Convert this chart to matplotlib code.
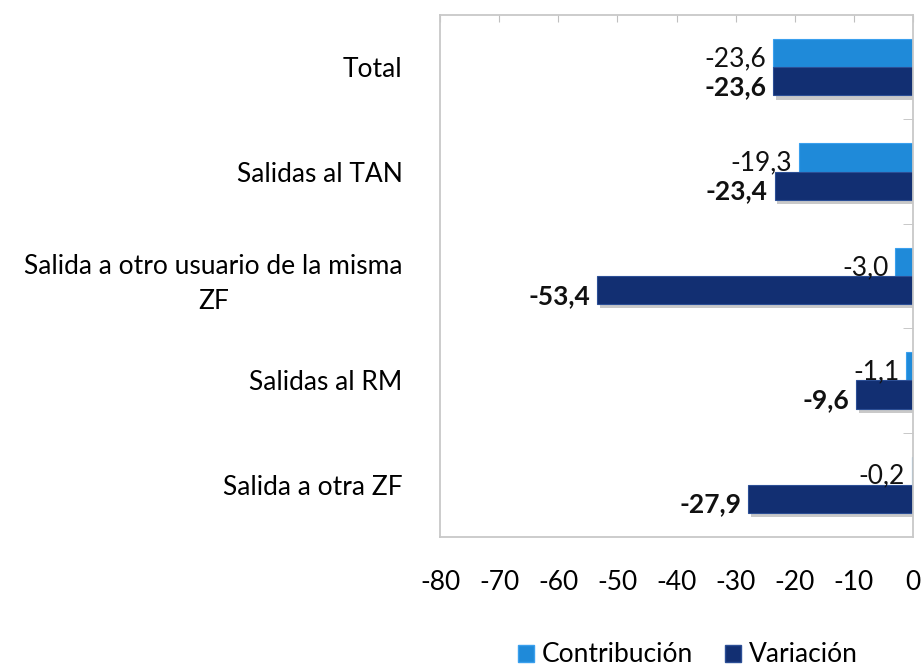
import matplotlib.pyplot as plt
import matplotlib.patheffects as pe
from matplotlib.patches import Patch
import numpy as np

plt.rcParams['font.family'] = ['Lato', 'DejaVu Sans']
plt.rcParams['axes.unicode_minus'] = False

categorias = ['Total', 'Salidas al TAN', 'Salida a otro usuario de la misma\nZF',
              'Salidas al RM', 'Salida a otra ZF']
contribucion = [-23.6, -19.3, -3.0, -1.1, -0.2]
variacion = [-23.6, -23.4, -53.4, -9.6, -27.9]

c_light = '#1f8ad9'
c_dark = '#122f72'
fs = 19

fig = plt.figure(figsize=(9.22, 6.7), dpi=100)
ax = fig.add_axes([440/922, 1-537/670, 473/922, 522/670])

y = np.arange(len(categorias))
h = 0.27
shadow = [pe.SimplePatchShadow(offset=(2, -3), shadow_rgbFace='#888888', alpha=0.45), pe.Normal()]

b1 = ax.barh(y - h/2, contribucion, height=h, color=c_light, edgecolor='#3aa0ee', linewidth=0.8, path_effects=shadow)
b2 = ax.barh(y + h/2, variacion, height=h, color=c_dark, edgecolor='#2c4f96', linewidth=0.8, path_effects=shadow)

def fmt(v):
    return ('%.1f' % v).replace('.', ',')

for rect, v in zip(b1, contribucion):
    ax.annotate(fmt(v), (v, rect.get_y() + rect.get_height()/2), xytext=(-5, -4),
                textcoords='offset points', ha='right', va='center', fontsize=fs, color='#111111')
for rect, v in zip(b2, variacion):
    ax.annotate(fmt(v), (v, rect.get_y() + rect.get_height()/2), xytext=(-5, -4),
                textcoords='offset points', ha='right', va='center', fontsize=fs,
                fontweight='bold', color='#111111')

ax.set_xlim(-80, 0)
ax.set_ylim(len(categorias) - 0.5, -0.5)
ax.set_xticks(np.arange(-80, 1, 10))
ax.tick_params(axis='x', top=True, bottom=False, labelbottom=True, direction='in',
               length=5, color='#bfbfbf', labelsize=fs, pad=24)
ax.set_yticks(y)
ax.set_yticklabels(categorias, multialignment='center', linespacing=1.5)
ax.tick_params(axis='y', which='major', length=0, labelsize=fs, pad=27)
ax.set_yticks(np.arange(0.5, len(categorias) - 0.5, 1), minor=True)
ax.tick_params(axis='y', which='minor', left=False, right=True, direction='in',
               length=7, color='#bfbfbf')
for s in ax.spines.values():
    s.set_color('#c8c8c8')
    s.set_linewidth(1.3)

handles = [Patch(facecolor=c_light, edgecolor='#3aa0ee', label='Contribución'),
           Patch(facecolor=c_dark, edgecolor='#2c4f96', label='Variación')]
fig.legend(handles=handles, loc='center', bbox_to_anchor=(688/922, 1-655/670), ncol=2,
           frameon=False, fontsize=fs, handlelength=0.6, handleheight=0.6,
           handletextpad=0.3, columnspacing=1.2)

fig.savefig('out.png', dpi=100)
